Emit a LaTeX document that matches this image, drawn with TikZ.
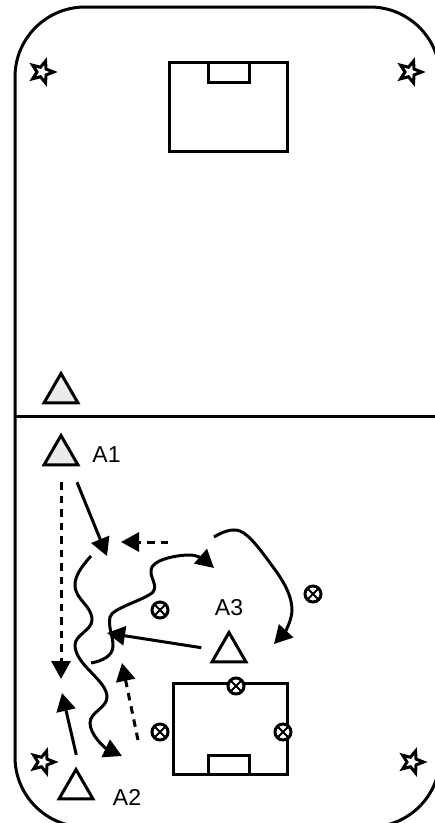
\documentclass[tikz,border=0pt]{standalone}
\usepackage{fontspec}
\setmainfont{Liberation Sans}
\usetikzlibrary{arrows.meta, positioning, shapes.geometric}
\tikzstyle{drill}=[x=1pt, y=-1pt, line width=3pt, >={Triangle[length=18pt, width=19pt]}]
\tikzstyle{player}=[draw, regular polygon, regular polygon sides=3, inner sep=0pt, minimum size=39pt, fill=white]
\tikzstyle{shaded}=[player, fill=black!8]
\tikzstyle{tag}=[inner sep=0pt, font=\fontsize{23}{27}\selectfont]
\tikzstyle{flag}=[draw, star, star points=5, star point ratio=2.3, inner sep=0pt, minimum size=23pt, shape border rotate=-90]
\tikzstyle{marker}=[draw, circle, inner sep=0pt, minimum size=16pt, line width=3pt, fill=white,
  path picture={\draw[line width=2pt] (path picture bounding box.north west) -- (path picture bounding box.south east)
    (path picture bounding box.north east) -- (path picture bounding box.south west);}]
\tikzstyle{pass}=[dash pattern=on 7.5pt off 6pt]

\begin{document}
\begin{tikzpicture}[drill]
  \clip (0,0) rectangle (435,823);
  \draw[rounded corners=70pt] (15,7) rectangle (440,827);
  \draw (15,416) -- (440,416);
  \draw (169,62) rectangle (287,151);
  \draw (208,62) rectangle (249,82);
  \draw (173,683) rectangle (287,774);
  \draw (208,755) rectangle (249,774);

  \node[flag] (f1) at (42,72) {};
  \node[flag] (f2) at (410,72) {};
  \node[flag] (f3) at (43,762) {};
  \node[flag] (f4) at (412,762) {};

  \node[shaded] (p0) at (61,393) {};
  \node[shaded] (p1) at (61,455) {};
  \node[player] (p2) at (76,789) {};
  \node[player] (p3) at (229,652) {};
  \node[tag] (a1) [right=17pt of p1] {A1};
  \node[tag] (a2) at (127,797) {A2};
  \node[tag] (a3) at (229,608) {A3};

  \node[marker] (m1) at (160,610) {};
  \node[marker] (m2) at (313,594) {};
  \node[marker] (m3) at (236,686) {};
  \node[marker] (m4) at (160,732) {};
  \node[marker] (m5) at (283,732) {};

  \coordinate (c1) at (61,679);
  \coordinate (c2) at (107,556);
  \coordinate (c3) at (168,542);
  \coordinate (c4) at (121,542);
  \coordinate (c5) at (62,693);
  \coordinate (c6) at (138,740);
  \coordinate (c7) at (122,663);
  \coordinate (c8) at (107,633);

  \draw[->, pass, shorten <=16pt] (p1.south) -- (c1);
  \draw[->] ([xshift=10pt]p1.south) ++(6,16) -- (c2);
  \draw[->, pass] (c3) -- (c4);
  \draw[->, shorten <=12pt] ([xshift=3pt]p2.corner 1) -- (c5);
  \draw[->, pass] (c6) -- (c7);
  \draw[->, shorten <=16pt] (p3) -- (c8);

  % wavy runs
  \draw[->] (91,556) .. controls (80,568) and (75,577) .. (75,585) .. controls (75,600) and (92,605) .. (92,620)
    .. controls (92,630) and (75,635) .. (75,645) .. controls (75,665) and (107,680) .. (107,697)
    .. controls (107,708) and (90,712) .. (90,723) .. controls (90,735) and (105,748) .. (122,756);
  \draw[->] (91,663) .. controls (102,661) and (113,656) .. (113,646) .. controls (113,635) and (108,628) .. (110,617)
    .. controls (112,608) and (145,600) .. (153,592) .. controls (158,585) and (150,578) .. (151,570)
    .. controls (152,560) and (175,555) .. (190,555) .. controls (198,555) and (206,561) .. (214,568);
  \draw[->] (214,537) .. controls (222,532) and (232,528) .. (240,531) .. controls (250,535) and (262,552) .. (273,567)
    .. controls (285,583) and (292,597) .. (292,610) .. controls (292,620) and (285,632) .. (274,644);
\end{tikzpicture}
\end{document}
